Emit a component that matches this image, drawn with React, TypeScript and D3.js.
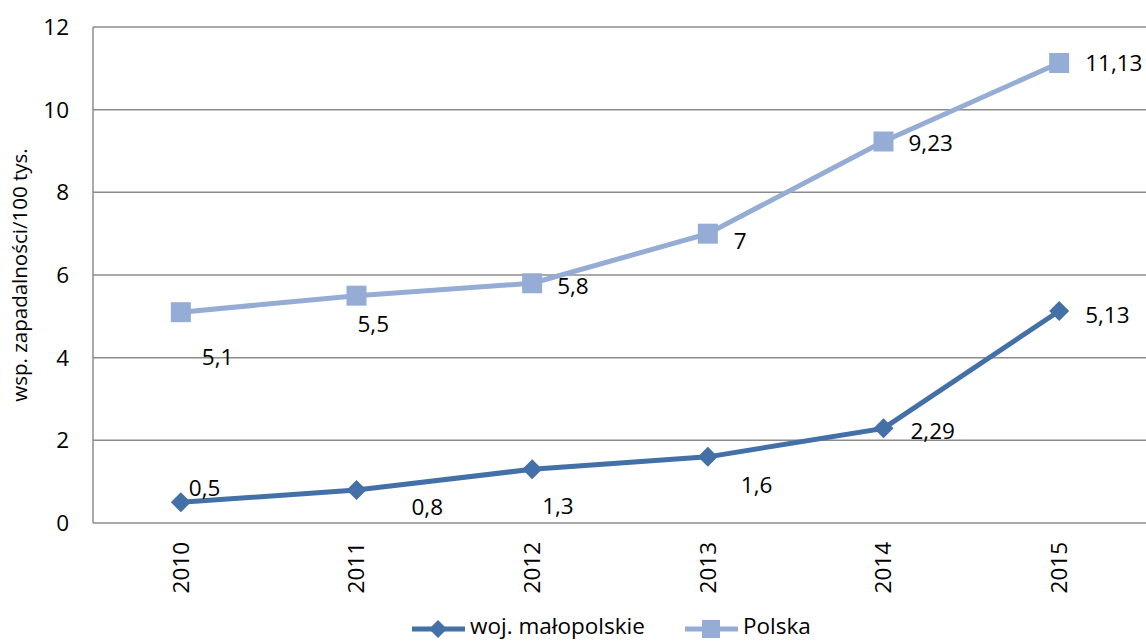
import React from "react";
import * as d3 from "d3";

const years = ["2010", "2011", "2012", "2013", "2014", "2015"];
const malopolskie = [0.5, 0.8, 1.3, 1.6, 2.29, 5.13];
const polska = [5.1, 5.5, 5.8, 7, 9.23, 11.13];
const yTicks = [0, 2, 4, 6, 8, 10, 12];
// label offsets (dx, dy) relative to point, Excel-like placement
const malOffsets: [number, number][] = [[8, -14], [55, 17], [10, 37], [33, 28], [27, 3], [26, 4]];
const polOffsets: [number, number][] = [[21, 45], [1, 28], [25, 3], [26, 7], [25, 2], [26, 0]];

const W = 1146, H = 641;
const M = { left: 93, top: 27, bottom: 523, right: 1147 };
const DARK = "#4470A8";
const LIGHT = "#95ACD4";
const FONT = "Open Sans, sans-serif";
const FS = 22.5;

export default function App() {
  const x = d3.scaleBand<string>().domain(years).range([M.left, M.right]);
  const y = d3.scaleLinear().domain([0, 12]).range([M.bottom, M.top]);
  const cx = (d: string) => (x(d) as number) + x.bandwidth() / 2;
  const line = d3.line<number>().x((_, i) => cx(years[i])).y((v) => y(v));
  const fmt = (v: number) => String(v).replace(".", ",");
  const diamond = (px: number, py: number, r = 10) =>
    `M${px},${py - r}L${px + r},${py}L${px},${py + r}L${px - r},${py}Z`;

  return (
    <svg width={W} height={H} style={{ position: "absolute", left: 0, top: 0, background: "#fff" }}>
      {yTicks.map((t) => (
        <g key={t}>
          <line x1={M.left} x2={M.right} y1={y(t)} y2={y(t)} stroke="#8c8c8c" strokeWidth={1.5} />
          <text x={69} y={y(t)} dy="0.35em" textAnchor="end" fontFamily={FONT} fontSize={FS} fill="#000">
            {t}
          </text>
        </g>
      ))}
      <line x1={M.left} x2={M.left} y1={M.top} y2={M.bottom} stroke="#8c8c8c" strokeWidth={1.5} />
      {years.map((yr) => (
        <text
          key={yr}
          transform={`translate(${cx(yr)},${M.bottom + 19}) rotate(-90)`}
          textAnchor="end"
          dy="0.35em"
          fontFamily={FONT}
          fontSize={FS}
          fill="#000"
        >
          {yr}
        </text>
      ))}
      <text
        transform={`translate(20,${(M.top + M.bottom) / 2}) rotate(-90)`}
        textAnchor="middle"
        dy="0.35em"
        fontFamily={FONT}
        fontSize={20.5}
        fill="#000"
      >
        wsp. zapadalności/100 tys.
      </text>

      <path d={line(polska) ?? ""} fill="none" stroke={LIGHT} strokeWidth={5} />
      {polska.map((v, i) => (
        <rect key={i} x={cx(years[i]) - 10} y={y(v) - 10} width={20} height={20} fill={LIGHT} />
      ))}
      <path d={line(malopolskie) ?? ""} fill="none" stroke={DARK} strokeWidth={5} />
      {malopolskie.map((v, i) => (
        <path key={i} d={diamond(cx(years[i]), y(v))} fill={DARK} />
      ))}

      {polska.map((v, i) => (
        <text key={i} x={cx(years[i]) + polOffsets[i][0]} y={y(v) + polOffsets[i][1]} dy="0.35em"
          fontFamily={FONT} fontSize={FS} fill="#000">
          {fmt(v)}
        </text>
      ))}
      {malopolskie.map((v, i) => (
        <text key={i} x={cx(years[i]) + malOffsets[i][0]} y={y(v) + malOffsets[i][1]} dy="0.35em"
          fontFamily={FONT} fontSize={FS} fill="#000">
          {fmt(v)}
        </text>
      ))}

      <g>
        <line x1={412} x2={465} y1={629} y2={629} stroke={DARK} strokeWidth={5} />
        <path d={diamond(438, 629, 9)} fill={DARK} />
        <text x={470} y={626} dy="0.35em" fontFamily={FONT} fontSize={FS} fill="#000">woj. małopolskie</text>
        <line x1={685} x2={738} y1={629} y2={629} stroke={LIGHT} strokeWidth={5} />
        <rect x={702} y={620} width={18} height={18} fill={LIGHT} />
        <text x={743} y={626} dy="0.35em" fontFamily={FONT} fontSize={FS} fill="#000">Polska</text>
      </g>
    </svg>
  );
}
